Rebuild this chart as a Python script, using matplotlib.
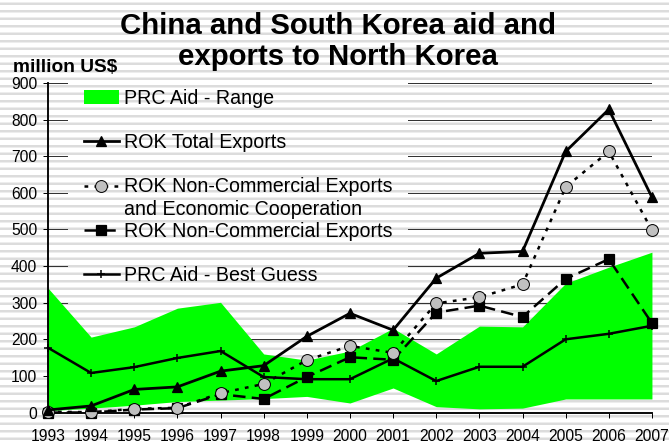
#!/usr/bin/env python3
"""China / South Korea aid and exports to North Korea, 1993-2007."""
import matplotlib
matplotlib.use('Agg')
import matplotlib.pyplot as plt
from matplotlib.lines import Line2D

YEARS = [1993, 1994, 1995, 1996, 1997, 1998, 1999, 2000,
         2001, 2002, 2003, 2004, 2005, 2006, 2007]

# million US$
PRC_RANGE_LOW = [5, 12, 20, 30, 34, 38, 44, 26, 67, 16, 10, 12, 37, 37, 37]
PRC_RANGE_HIGH = [340, 206, 234, 285, 301, 160, 143, 168, 230, 160, 236, 234, 353, 397, 438]
ROK_TOTAL = [7, 18, 63, 70, 113, 128, 208, 271, 225, 367, 435, 440, 713, 828, 588]
ROK_NC_EC = [2, 1, 10, 13, 53, 78, 143, 182, 163, 298, 315, 350, 616, 713, 498]
ROK_NC = [0, 0, 8, 12, 50, 37, 97, 151, 144, 273, 292, 261, 365, 419, 244]
PRC_BEST = [177, 108, 124, 149, 168, 97, 91, 91, 148, 86, 125, 125, 200, 215, 237]

Y_TICKS = [0, 100, 200, 300, 400, 500, 600, 700, 800, 900]

TITLE = 'China and South Korea aid and\nexports to North Korea'
Y_LABEL = 'million US$'

STRIPE = '#dcdcdc'
GREEN = '#00ff00'

plt.rcParams['font.family'] = ['Liberation Sans', 'DejaVu Sans']
plt.rcParams['hatch.linewidth'] = 2.0

DPI = 90
fig = plt.figure(figsize=(7.4334, 4.9334), dpi=DPI)
# striped slide background
fig.patch.set_facecolor('white')
fig.patch.set_edgecolor(STRIPE)
fig.patch.set_linewidth(0)
fig.patch.set_hatch('--')

ax = fig.add_axes([0.0717, 0.0709, 0.9028, 0.7421])
ax.set_facecolor('none')

rng = ax.fill_between(YEARS, PRC_RANGE_LOW, PRC_RANGE_HIGH, color=GREEN,
                      linewidth=0, zorder=1)
best, = ax.plot(YEARS, PRC_BEST, color='black', lw=2, marker='+', ms=7,
                mew=1.2, zorder=3, clip_on=False)
nc, = ax.plot(YEARS, ROK_NC, color='black', lw=2, dashes=(5, 2.5),
              marker='s', ms=8, mfc='black', mec='black', zorder=4, clip_on=False)
ncec, = ax.plot(YEARS, ROK_NC_EC, color='black', lw=2, dashes=(1.5, 2.5),
                marker='o', ms=9.5, mfc='#c0c0c0', mec='black', mew=0.8,
                zorder=5, clip_on=False)
total, = ax.plot(YEARS, ROK_TOTAL, color='black', lw=2.2, marker='^', ms=8,
                 zorder=6, clip_on=False)

ax.set_xlim(YEARS[0], YEARS[-1])
ax.set_xticks(YEARS)
ax.set_ylim(Y_TICKS[0], Y_TICKS[-1])
ax.set_yticks(Y_TICKS)
ax.tick_params(axis='both', direction='out', length=4, width=0.8,
               color='black', labelsize=12.5)
ax.tick_params(axis='x', pad=9.5)
ax.tick_params(axis='y', pad=4.5)
ax.yaxis.grid(True, color='#333333', lw=0.8)
ax.set_axisbelow(True)
for side in ('top', 'right'):
    ax.spines[side].set_visible(False)
for side in ('left', 'bottom'):
    ax.spines[side].set_linewidth(1.5)

# blank rows reproduce the uneven spacing of the original legend
blank = Line2D([], [], linestyle='none')
handles = [rng, blank, total, blank, ncec, blank, nc, blank, best, blank]
labels = ['PRC Aid - Range', ' ', 'ROK Total Exports', ' ',
          'ROK Non-Commercial Exports', 'and Economic Cooperation',
          'ROK Non-Commercial Exports', ' ', 'PRC Aid - Best Guess', ' ']
leg = ax.legend(handles, labels, loc='upper left', bbox_to_anchor=(0.0331, 1.030),
                borderaxespad=0, fontsize=15.7, handlelength=1.79,
                handletextpad=0.26, labelspacing=0.16, borderpad=0.8,
                frameon=True, fancybox=False, framealpha=1)
frame = leg.get_frame()
frame.set_facecolor('white')
frame.set_edgecolor(STRIPE)
frame.set_linewidth(0)
frame.set_hatch('--')
# legend box hides the gridlines but sits under the data
leg.set_zorder(0.8)

fig.text(338 / 669, 1 - 12 / 444, TITLE, ha='center', va='top',
         fontsize=23.5, fontweight='bold', linespacing=1.15)
fig.text(13 / 669, 1 - 72 / 444, Y_LABEL, ha='left', va='baseline',
         fontsize=15.3, fontweight='bold')

fig.savefig('out.png', dpi=DPI)
